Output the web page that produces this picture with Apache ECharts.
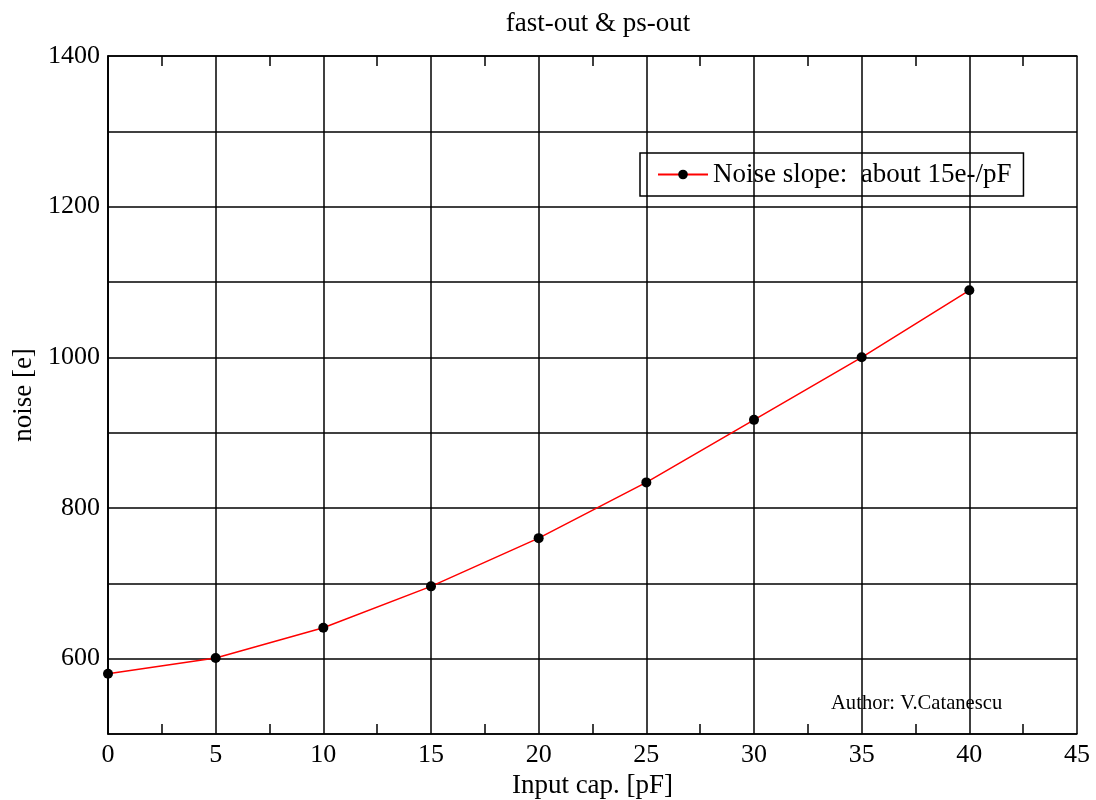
<!DOCTYPE html>
<html>
<head>
<meta charset="utf-8">
<script src="https://cdn.jsdelivr.net/npm/echarts@6/dist/echarts.min.js"></script>
<style>html,body{margin:0;padding:0;background:#fff;}#c{width:1096px;height:800px;}</style>
</head>
<body>
<div id="c"></div>
<script>
const capValues = [0, 5, 10, 15, 20, 25, 30, 35, 40];
const noiseValues = [580, 601, 641, 696, 760, 834, 917, 1000, 1089];
const seriesName = 'Noise slope:  about 15e-/pF';
const titleText = 'fast-out & ps-out';
const xName = 'Input cap. [pF]';
const yName = 'noise [e]';
const authorText = 'Author: V.Catanescu';

const FONT = '"Liberation Serif", "DejaVu Serif", serif';
const chart = echarts.init(document.getElementById('c'));
const gridLeft = 108, gridRight = 19, gridTop = 56, gridBottom = 66;
const axisLine = {show: true, lineStyle: {color: '#000', width: 1.5}};
const split = {show: true, lineStyle: {color: '#000', width: 1.5}};
const minor = {show: true, splitNumber: 2, length: 10, lineStyle: {color: '#000', width: 1.5}};
chart.setOption({
  animation: false,
  backgroundColor: '#fff',
  title: {text: titleText, left: 593, top: 5, textAlign: 'center',
    textStyle: {fontFamily: FONT, fontSize: 27, fontWeight: 'normal', color: '#000'}},
  grid: {left: gridLeft, right: gridRight, top: gridTop, bottom: gridBottom,
    containLabel: false, outerBoundsMode: 'none'},
  legend: {
    data: [seriesName], left: 640, top: 153, orient: 'horizontal',
    borderColor: '#000', borderWidth: 1.5, padding: [8, 12, 8, 17],
    itemWidth: 50, itemHeight: 12, itemGap: 0,
    textStyle: {fontFamily: FONT, fontSize: 27, color: '#000'}
  },
  xAxis: [{
    type: 'value', min: 0, max: 45, interval: 5, position: 'bottom',
    name: xName, nameLocation: 'middle', nameGap: 37,
    nameTextStyle: {fontFamily: FONT, fontSize: 27, color: '#000'},
    axisLine: axisLine,
    axisTick: {show: false, inside: true},
    minorTick: minor,
    axisLabel: {fontFamily: FONT, fontSize: 26, color: '#000', margin: 8},
    splitLine: split
  }, {
    type: 'value', min: 0, max: 45, interval: 5, position: 'top',
    axisLine: axisLine, axisTick: {show: false, inside: true},
    minorTick: minor,
    axisLabel: {show: false}, splitLine: {show: false}
  }],
  yAxis: [{
    type: 'value', min: 500, max: 1400, interval: 100, position: 'left',
    name: yName, nameLocation: 'middle', nameGap: 70, nameRotate: 90,
    nameTextStyle: {fontFamily: FONT, fontSize: 27, color: '#000'},
    axisLine: axisLine, axisTick: {show: false},
    axisLabel: {fontFamily: FONT, fontSize: 26, color: '#000', margin: 8,
      formatter: v => (v % 200 === 0 ? String(v) : '')},
    splitLine: split
  }, {
    type: 'value', min: 500, max: 1400, interval: 100, position: 'right',
    axisLine: axisLine, axisTick: {show: false}, axisLabel: {show: false}, splitLine: {show: false}
  }],
  series: [{
    name: seriesName, type: 'line',
    data: capValues.map((x, i) => [x, noiseValues[i]]),
    symbol: 'circle', symbolSize: 10,
    itemStyle: {color: '#000'},
    lineStyle: {color: '#ff0000', width: 1.5},
    z: 5
  }],
  graphic: [{
    type: 'text', left: 831, top: 693,
    style: {text: authorText, fontFamily: FONT, fontSize: 20.6, fill: '#000'}
  }]
});
</script>
</body>
</html>
